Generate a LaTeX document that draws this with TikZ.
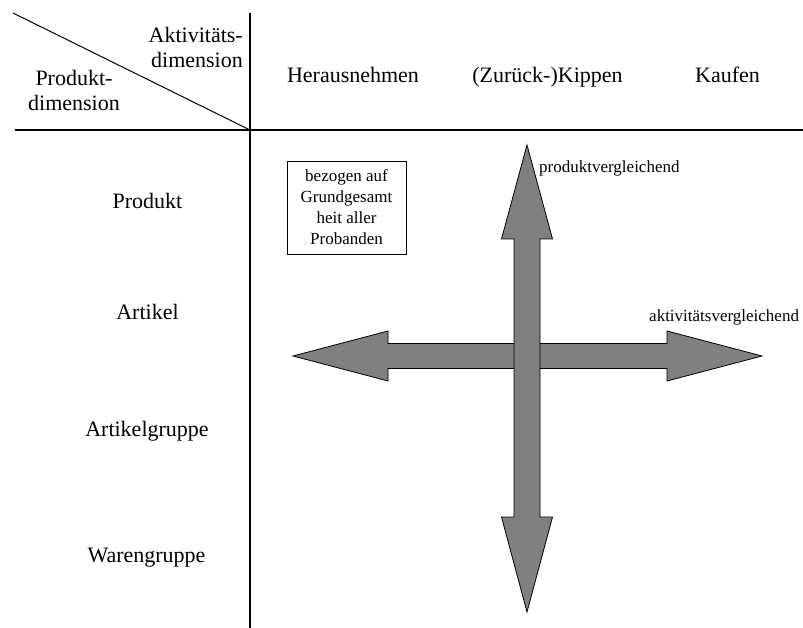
\documentclass[tikz,border=0pt]{standalone}
\usepackage{fontspec}
\setmainfont{Liberation Serif}
\begin{document}
\begin{tikzpicture}[x=1pt,y=-1pt,
  gross/.style={font=\fontsize{22}{25}\selectfont},
  klein/.style={font=\fontsize{17}{21}\selectfont},
  pfeil/.style={draw=black, fill=gray, line width=0.8pt, line join=miter},
  linie/.style={draw=black, line width=1.2pt}]

\useasboundingbox (0,0) rectangle (803,628);

% Tabellenkopf
\draw[linie] (15,130) -- (803,130);
\draw[linie] (250,13) -- (250,628);
\draw[line width=1pt] (13,13) -- (250,130);

\node[gross, align=right, anchor=east, inner sep=0pt] (aktdim) at (243,47) {Aktivitäts-\\dimension};
\node[gross, align=center, inner sep=0pt] (proddim) at (74,90) {Produkt-\\dimension};

\node[gross, anchor=base] (heraus) at (353,83) {Herausnehmen};
\node[gross, anchor=base] (kippen) at (547.5,83) {(Zurück-)Kippen};
\node[gross, anchor=base] (kaufen) at (727.5,83) {Kaufen};

% Zeilen
\node[gross, anchor=base] (produkt) at (147.5,209) {Produkt};
\node[gross, anchor=base] (artikel) at (147.5,319.5) {Artikel};
\node[gross, anchor=base] (artgr) at (147,436.5) {Artikelgruppe};
\node[gross, anchor=base] (wargr) at (146.5,562) {Warengruppe};

% Kasten
\node[klein, draw, line width=0.8pt, align=center, minimum width=119pt, minimum height=93pt, inner sep=0pt] (basis) at (346.5,207.5)
  {bezogen auf\\Grundgesamt\\heit aller\\Probanden};

% Pfeile
\draw[pfeil] (293,356) -- (388,331) -- (388,343.5) -- (667,343.5) -- (667,331) -- (762,356)
  -- (667,381) -- (667,368.5) -- (388,368.5) -- (388,381) -- cycle;
\draw[pfeil] (527,145) -- (552.5,239) -- (540,239) -- (540,517) -- (552.5,517) -- (527,612)
  -- (501.5,517) -- (514,517) -- (514,239) -- (501.5,239) -- cycle;

\node[klein, anchor=west, inner sep=0pt] (prodvgl) at (539,168) {produktvergleichend};
\node[klein, anchor=west, inner sep=0pt] (aktvgl) at (649,317) {aktivitätsvergleichend};

\end{tikzpicture}
\end{document}
